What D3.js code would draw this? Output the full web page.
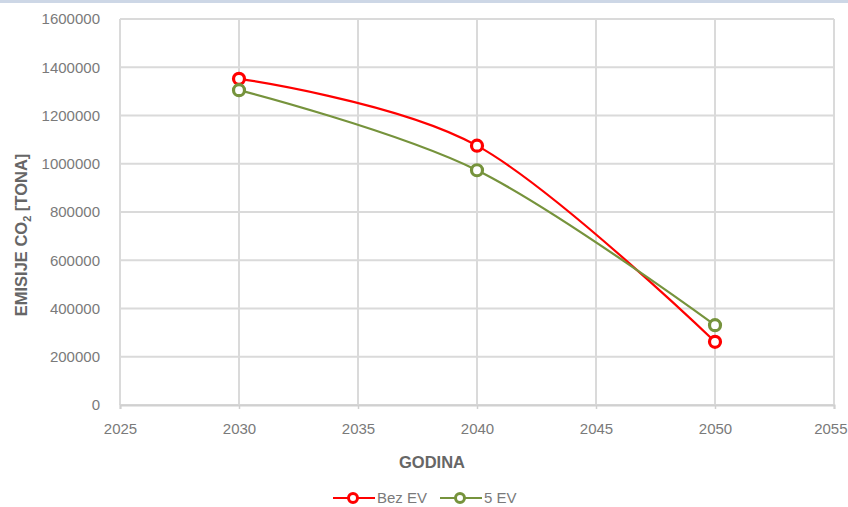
<!DOCTYPE html>
<html>
<head>
<meta charset="utf-8">
<script src="https://cdn.jsdelivr.net/npm/d3@7/dist/d3.min.js"></script>
<style>
  html, body { margin: 0; padding: 0; background: #ffffff; }
  svg { display: block; font-family: "Liberation Sans", Arial, sans-serif; }
</style>
</head>
<body>
<svg id="chart" width="848" height="507"></svg>
<script>
// Emissions per year for the two scenarios
const years = [2030, 2040, 2050];
const bezEV = [1352000, 1075000, 262000];
const petEV = [1305000, 973000, 331000];
const seriesNames = ["Bez EV", "5 EV"];
const xTicks = [2025, 2030, 2035, 2040, 2045, 2050, 2055];
const yTicks = [0, 200000, 400000, 600000, 800000, 1000000, 1200000, 1400000, 1600000];

const colors = ["#ff0000", "#76933c"];
const svg = d3.select("#chart");
const W = 848, H = 507;
const m = { left: 120, right: 14, top: 19, bottom: 102 };

// thin top band
svg.append("rect").attr("x", 0).attr("y", 0).attr("width", W).attr("height", 3).attr("fill", "#cdd7e6");

const x = d3.scaleLinear().domain([2025, 2055]).range([m.left, W - m.right]);
const y = d3.scaleLinear().domain([0, 1600000]).range([H - m.bottom, m.top]);

const grid = svg.append("g");
// horizontal gridlines
grid.selectAll("line.h").data(yTicks).join("line")
  .attr("x1", x(2025)).attr("x2", x(2055))
  .attr("y1", d => y(d)).attr("y2", d => y(d))
  .attr("stroke", "#dadada").attr("stroke-width", 2);
// vertical gridlines
grid.selectAll("line.v").data(xTicks).join("line")
  .attr("x1", d => x(d)).attr("x2", d => x(d))
  .attr("y1", y(1600000)).attr("y2", y(0))
  .attr("stroke", "#dadada").attr("stroke-width", 2);

// y axis labels
const yAxis = d3.axisLeft(y).tickValues(yTicks).tickSize(0).tickPadding(20).tickFormat(d3.format("d"));
const gy = svg.append("g").attr("transform", `translate(${m.left},0)`).call(yAxis);
gy.select(".domain").remove();
gy.selectAll("text").attr("font-size", 15).attr("fill", "#7a7a7a").attr("font-family", "Liberation Sans, Arial, sans-serif");

// x axis with small ticks under the baseline
const xAxis = d3.axisBottom(x).tickValues(xTicks).tickSize(4).tickPadding(14).tickFormat(d3.format("d"));
const gx = svg.append("g").attr("transform", `translate(0,${y(0)})`).call(xAxis);
gx.select(".domain").attr("stroke", "#d0d0d0").attr("stroke-width", 2);
gx.selectAll(".tick line").attr("stroke", "#d0d0d0").attr("stroke-width", 1.5);
gx.selectAll("text").attr("font-size", 15).attr("fill", "#7a7a7a").attr("font-family", "Liberation Sans, Arial, sans-serif");
// keep the last year label inside the page edge
gx.selectAll(".tick").filter(d => d === 2055).select("text")
  .attr("text-anchor", "end").attr("x", W - 1 - x(2055));

// axis titles
svg.append("text")
  .attr("x", 432).attr("y", 468)
  .attr("text-anchor", "middle")
  .attr("font-size", 16.5).attr("font-weight", "bold").attr("fill", "#666666")
  .text("GODINA");

const yt = svg.append("text")
  .attr("transform", "translate(27,235) rotate(-90)")
  .attr("text-anchor", "middle")
  .attr("font-size", 16.5).attr("font-weight", "bold").attr("fill", "#666666");
yt.append("tspan").text("EMISIJE CO");
yt.append("tspan").attr("font-size", 11).attr("dy", 4).text("2");
yt.append("tspan").attr("dy", -4).text(" [TONA]");

// series lines with smoothed curves
const data = [bezEV, petEV].map((vals, i) => ({
  name: seriesNames[i], color: colors[i],
  pts: years.map((yr, j) => ({ yr, v: vals[j] }))
}));

const line = d3.line().x(d => x(d.yr)).y(d => y(d.v)).curve(d3.curveCardinal.tension(0));

const sg = svg.selectAll("g.series").data(data).join("g").attr("class", "series");
sg.append("path")
  .attr("d", d => line(d.pts))
  .attr("fill", "none").attr("stroke", d => d.color).attr("stroke-width", 2.2);
sg.selectAll("circle").data(d => d.pts.map(p => ({ ...p, color: d.color }))).join("circle")
  .attr("cx", d => x(d.yr)).attr("cy", d => y(d.v)).attr("r", 5.5)
  .attr("fill", "#ffffff").attr("stroke", d => d.color).attr("stroke-width", 3.2);

// legend
const legX = [333, 440];
const leg = svg.selectAll("g.leg").data(data).join("g").attr("class", "leg")
  .attr("transform", (d, i) => `translate(${legX[i]},498)`);
leg.append("line").attr("x1", 0).attr("x2", 42).attr("y1", 0).attr("y2", 0)
  .attr("stroke", d => d.color).attr("stroke-width", 2.2);
leg.append("circle").attr("cx", 20).attr("cy", 0).attr("r", 4.5)
  .attr("fill", "#ffffff").attr("stroke", d => d.color).attr("stroke-width", 3);
leg.append("text").attr("x", 44).attr("y", 5)
  .attr("font-size", 15).attr("fill", "#7a7a7a")
  .text(d => d.name);
</script>
</body>
</html>
